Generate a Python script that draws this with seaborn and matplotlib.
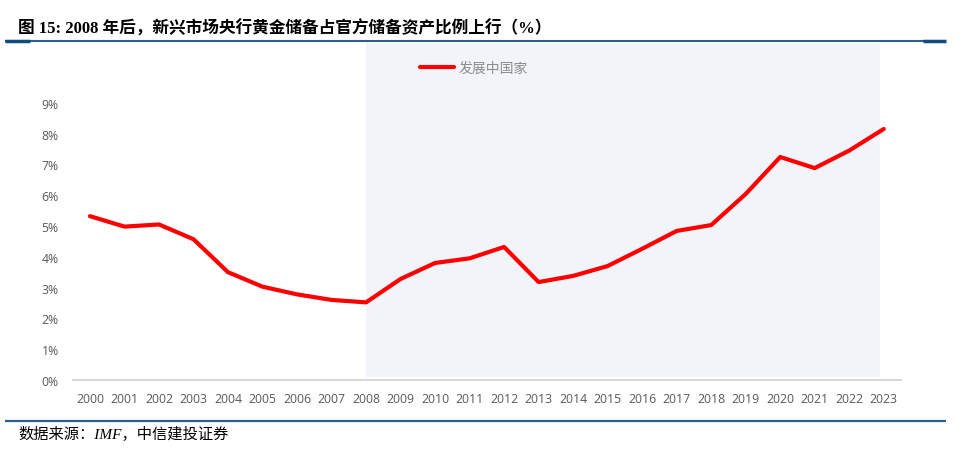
import numpy as np
import pandas as pd
import matplotlib
matplotlib.use('Agg')
import matplotlib.pyplot as plt
from matplotlib.lines import Line2D
import seaborn as sns

years = [str(y) for y in range(2000, 2024)]
share = [5.32, 4.98, 5.05, 4.57, 3.50, 3.03, 2.78, 2.60, 2.52, 3.28, 3.80, 3.95,
         4.32, 3.18, 3.38, 3.70, 4.26, 4.84, 5.03, 6.04, 7.24, 6.88, 7.45, 8.15]
series_name = '发展中国家'
yticks = list(range(0, 10))

sns.set_theme(style='white')
plt.rcParams['font.family'] = ['Open Sans', 'Noto Sans CJK SC', 'DejaVu Sans']

df = pd.DataFrame({'year': years, 'share': share})
df['pos'] = np.arange(len(years))

fig = plt.figure(figsize=(9.6, 4.6), dpi=100)
ax = fig.add_axes([72.7 / 960, 1 - 381 / 460, 828.3 / 960, 337 / 460])

# shaded post-2008 period
ax.axvspan(8, 22.9, ymin=3 / 337, ymax=1, color='#F1F5FA', lw=0, zorder=0)

sns.lineplot(data=df, x='pos', y='share', ax=ax, color='#FF0000', lw=3.0,
             label=series_name, zorder=3, solid_capstyle='round')

ax.set_xlim(-0.5, len(years) - 0.5)
ax.set_ylim(0, 337 / 30.8)
ax.set_xticks(df['pos'])
ax.set_xticklabels(years)
ax.set_yticks(yticks)
ax.set_yticklabels([f'{v}%' for v in yticks])
ax.set_xlabel('')
ax.set_ylabel('')
ax.tick_params(axis='both', length=0, labelsize=8.8, colors='#595959')
ax.tick_params(axis='y', pad=10)
ax.tick_params(axis='x', pad=8.5)
for s in ['top', 'right', 'left']:
    ax.spines[s].set_visible(False)
ax.spines['bottom'].set_color('#D9D9D9')
ax.spines['bottom'].set_linewidth(1.5)
ax.set_facecolor('none')

leg = ax.legend(loc='center left', bbox_to_anchor=(0.412, 0.926), frameon=False,
                handlelength=2.2, handletextpad=0.3, borderaxespad=0)
for t in leg.get_texts():
    t.set_color('#8C8C8C')
    t.set_fontsize(10)
    t.set_fontfamily(['Noto Sans CJK SC'])

# title and rules
fig.text(18 / 960, 1 - 29 / 460, '图 15: 2008 年后，新兴市场央行黄金储备占官方储备资产比例上行（%）',
         fontsize=12, fontweight='bold', family=['Liberation Serif', 'Noto Sans CJK SC'],
         color='#000000', va='center', ha='left')
rules = [([5, 946], 41.5, '#2A5F8F', 1.5),
         ([5, 30], 42, '#0F4C81', 2.5),
         ([923, 946], 42, '#0F4C81', 2.5),
         ([5, 946], 421.5, '#2A5F8F', 1.6)]
for xs, yy, col, w in rules:
    fig.add_artist(Line2D([xs[0] / 960, xs[1] / 960], [1 - yy / 460] * 2, color=col, lw=w,
                          solid_capstyle='butt', transform=fig.transFigure))
fig.text(18 / 960, 1 - 434 / 460, '数据来源：IMF，中信建投证券', fontsize=11, style='italic',
         family=['Liberation Serif', 'Noto Sans CJK SC'], color='#000000', va='center', ha='left')

fig.savefig('out.png', dpi=100)
